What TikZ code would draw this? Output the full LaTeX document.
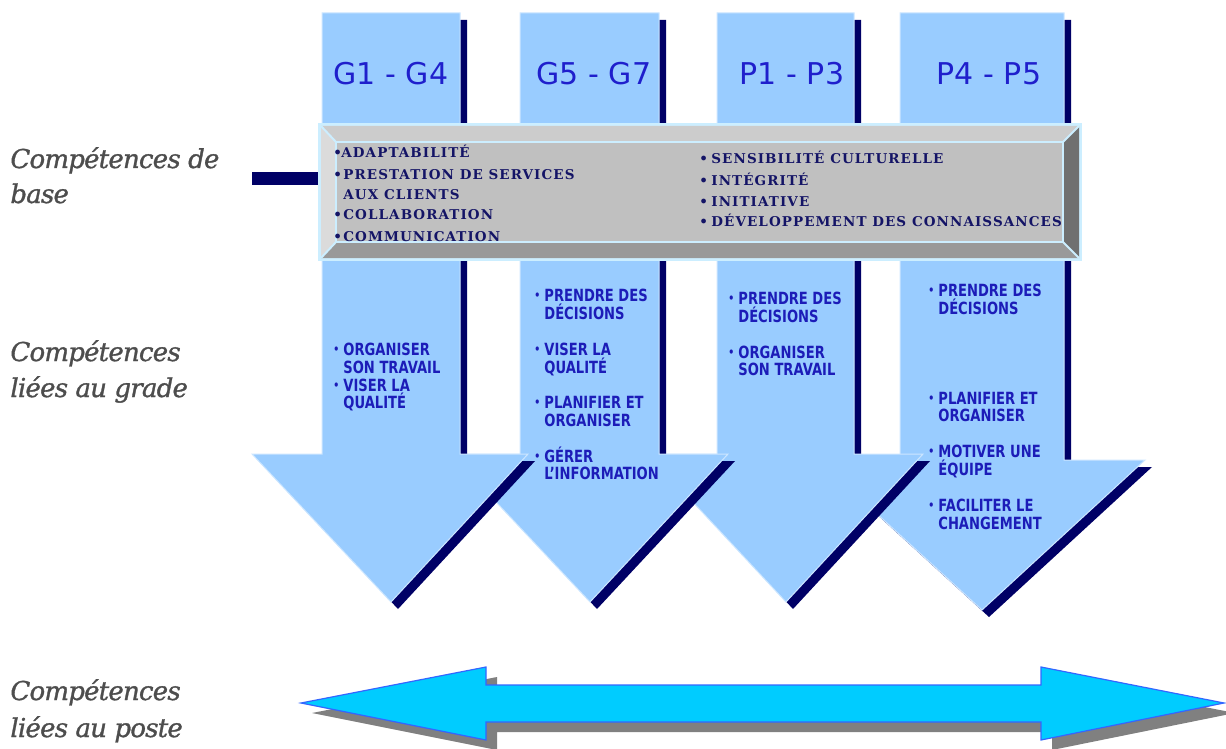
\documentclass[tikz,border=0pt]{standalone}
\usepackage{fontspec}
\setmainfont{DejaVu Serif}
\newfontfamily\boxfont[LetterSpace=8.0]{DejaVu Serif}
\newfontfamily\gradefont[FakeStretch=0.78]{DejaVu Sans}
\newfontfamily\headfont{DejaVu Sans}
\newfontfamily\sidefont[FakeBold=1.2, LetterSpace=-3.0]{DejaVu Serif Italic}
\usetikzlibrary{positioning}

\definecolor{gradebg}{HTML}{99CCFF}
\definecolor{arrowedge}{HTML}{CCE6FF}
\definecolor{navy}{HTML}{000066}
\definecolor{headblue}{HTML}{1F1FCC}
\definecolor{gradeblue}{HTML}{1C1CB8}
\definecolor{boxtext}{HTML}{141466}
\definecolor{labelgray}{HTML}{4D4D4D}
\definecolor{boxframe}{HTML}{CCEEFF}
\definecolor{boxface}{HTML}{C0C0C0}
\definecolor{postecyan}{HTML}{00CCFF}
\definecolor{posteedge}{HTML}{3366FF}

\newcommand{\gbul}{\makebox[5pt][l]{\raisebox{0.7pt}{\fontsize{6}{6}\selectfont •}}}
\newcommand{\bbul}{\makebox[5pt][l]{•}}

\begin{document}
\begin{tikzpicture}[x=0.5pt,y=-0.5pt,
    arrowfill/.style={fill=gradebg, draw=arrowedge, line width=0.5pt},
    arrowshadow/.style={fill=navy},
    headlabel/.style={font=\headfont\fontsize{15}{18}\selectfont, text=headblue, inner sep=0pt},
    boxitem/.style={font=\boxfont\bfseries\fontsize{6.75}{8}\selectfont, text=boxtext, inner sep=0pt, anchor=base west},
    gradeitem/.style={font=\gradefont\bfseries\fontsize{8.4}{10}\selectfont, text=gradeblue, inner sep=0pt, anchor=base west},
    sidelabel/.style={font=\sidefont\fontsize{13}{15}\selectfont, text=labelgray, inner sep=0pt, anchor=base west},
    postearrow/.style={fill=postecyan, draw=posteedge, line width=0.6pt},
    posteshadow/.style={fill=gray}]

\useasboundingbox (0,0) rectangle (1226,749);

% grade arrows, drawn right to left so each lies over the next one
\foreach \l/\r/\b/\wl/\wr/\tx/\ty in {900/1064/460/818/1145/982/610, 717/854/454/648/923/786/602, 520/659/454/451/728/590/602, 322/460/454/252/528/391/602}{
    \fill[arrowshadow, shift={(7,7)}] (\l,13) -- (\r,13) -- (\r,\b) -- (\wr,\b) -- (\tx,\ty) -- (\wl,\b) -- (\l,\b) -- cycle;
    \draw[arrowfill] (\l,13) -- (\r,13) -- (\r,\b) -- (\wr,\b) -- (\tx,\ty) -- (\wl,\b) -- (\l,\b) -- cycle;
}

\node[headlabel] (g14) at (391,74) {G1 - G4};
\node[headlabel] (g57) at (594,74) {G5 - G7};
\node[headlabel] (p13) at (792,74) {P1 - P3};
\node[headlabel] (p45) at (989,74) {P4 - P5};

% bevelled box of the base competences
\fill[boxframe] (318,123) rectangle (1082,261);
\fill[gray!40] (321,126) -- (1079,126) -- (1063,142) -- (336,142) -- cycle;
\fill[gray!28] (321,126) -- (336,142) -- (336,242) -- (321,258) -- cycle;
\fill[gray!80] (321,258) -- (336,242) -- (1063,242) -- (1079,258) -- cycle;
\fill[black!56] (1079,126) -- (1063,142) -- (1063,242) -- (1079,258) -- cycle;
\filldraw[fill=boxface, draw=boxframe, line width=1pt] (336,142) rectangle (1063,242);
\draw[boxframe, line width=1pt] (321,126) -- (336,142) (1079,126) -- (1063,142) (321,258) -- (336,242) (1079,258) -- (1063,242);

\coordinate (barstart) at (252,178.5);
\coordinate (barend) at (318,178.5);
\draw[navy, line width=6.5pt] (barstart) -- (barend);

\foreach \y/\t [count=\i] in {157/{\makebox[4pt][l]{•}ADAPTABILITÉ}, 179/{\bbul PRESTATION DE SERVICES}, 199/{\hspace*{5pt}AUX CLIENTS}, 220/{\bbul COLLABORATION}, 241/{\bbul COMMUNICATION}}
    \node[boxitem] (bl\i) at (333,\y) {\t};
\foreach \y/\t [count=\i] in {163/{SENSIBILITÉ CULTURELLE}, 185/{INTÉGRITÉ}, 206/{INITIATIVE}, 226/{DÉVELOPPEMENT DES CONNAISSANCES}}
    \node[boxitem] (br\i) at (699,\y) {\makebox[6pt][l]{•}\t};

% grade competences
\foreach \y/\t [count=\i] in {355/{\gbul ORGANISER}, 373/{\hspace*{5pt}SON TRAVAIL}, 391/{\gbul VISER LA}, 408/{\hspace*{5pt}QUALITÉ}}
    \node[gradeitem] (ga\i) at (333,\y) {\t};
\foreach \y/\t [count=\i] in {301/{\gbul PRENDRE DES}, 319/{\hspace*{5pt}DÉCISIONS}, 355/{\gbul VISER LA}, 373/{\hspace*{5pt}QUALITÉ}, 408/{\gbul PLANIFIER ET}, 426/{\hspace*{5pt}ORGANISER}, 462/{\gbul GÉRER}, 479/{\hspace*{5pt}L’INFORMATION}}
    \node[gradeitem] (gb\i) at (534,\y) {\t};
\foreach \y/\t [count=\i] in {304/{\gbul PRENDRE DES}, 322/{\hspace*{5pt}DÉCISIONS}, 358/{\gbul ORGANISER}, 375/{\hspace*{5pt}SON TRAVAIL}}
    \node[gradeitem] (gc\i) at (728,\y) {\t};
\foreach \y/\t [count=\i] in {296/{\gbul PRENDRE DES}, 314/{\hspace*{5pt}DÉCISIONS}, 404/{\gbul PLANIFIER ET}, 421/{\hspace*{5pt}ORGANISER}, 457/{\gbul MOTIVER UNE}, 475/{\hspace*{5pt}ÉQUIPE}, 511/{\gbul FACILITER LE}, 529/{\hspace*{5pt}CHANGEMENT}}
    \node[gradeitem] (gd\i) at (928,\y) {\t};

% double arrow of the job competences
\fill[posteshadow, shift={(11,10)}] (301,703) -- (486,667) -- (486,685) -- (1041,685) -- (1041,667) -- (1224,703) -- (1041,740) -- (1041,722) -- (486,722) -- (486,740) -- cycle;
\draw[postearrow] (301,703) -- (486,667) -- (486,685) -- (1041,685) -- (1041,667) -- (1224,703) -- (1041,740) -- (1041,722) -- (486,722) -- (486,740) -- cycle;

\foreach \y/\t [count=\i] in {168/{Compétences de}, 203/{base}, 361/{Compétences}, 397/{liées au grade}, 700/{Compétences}, 737/{liées au poste}}
    \node[sidelabel] (side\i) at (10,\y) {\t};
\end{tikzpicture}
\end{document}
